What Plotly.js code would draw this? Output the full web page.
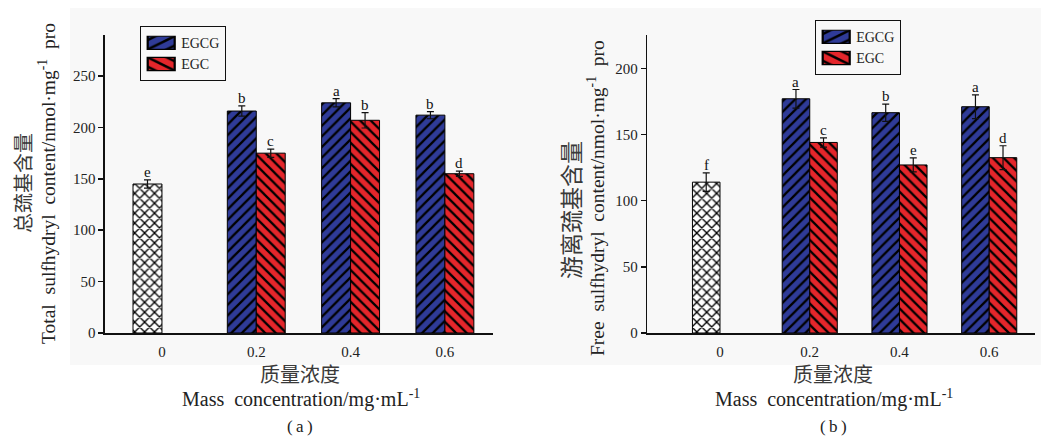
<!DOCTYPE html>
<html>
<head>
<meta charset="utf-8">
<script src="https://cdn.plot.ly/plotly-3.0.1.min.js"></script>
<style>
  html, body { margin: 0; padding: 0; background: #fff; }
  #chart { width: 1041px; height: 438px; }
</style>
</head>
<body>
<div id="chart"></div>
<script>
// Mass concentration categories (mg/mL)
const categories = ['0', '0.2', '0.4', '0.6'];
const doseCategories = ['0.2', '0.4', '0.6'];

// (a) Total sulfhydryl content, nmol/mg pro
const totalControl = [145];
const totalControlErr = [4];
const totalControlLetters = ['e'];
const totalEGCG = [216, 224, 212];
const totalEGCGErr = [5, 4, 3.5];
const totalEGCGLetters = ['b', 'a', 'b'];
const totalEGC = [175, 207, 155];
const totalEGCErr = [4, 7.5, 2.5];
const totalEGCLetters = ['c', 'b', 'd'];

// (b) Free sulfhydryl content, nmol/mg pro
const freeControl = [114];
const freeControlErr = [7];
const freeControlLetters = ['f'];
const freeEGCG = [177, 166.5, 171];
const freeEGCGErr = [7, 6.5, 9];
const freeEGCGLetters = ['a', 'b', 'a'];
const freeEGC = [144, 127, 132.5];
const freeEGCErr = [3.5, 5.3, 9];
const freeEGCLetters = ['c', 'e', 'd'];

const SERIF = "'Liberation Serif', 'Times New Roman', 'Noto Sans CJK SC', serif";
const CJK = "'Noto Sans CJK SC', sans-serif";
const BLUE = '#2f3b98';
const RED = '#e4262b';
const W = 0.307;

function errorBars(arr) {
  return { type: 'data', array: arr, visible: true, color: '#111', thickness: 1.2, width: 3.5 };
}

function panelTraces(xa, ya, legendId, control, controlErr, egcg, egcgErr, egc, egcErr) {
  return [
    {
      type: 'bar', name: 'Control', x: ['0'], y: control, xaxis: xa, yaxis: ya,
      width: W, offset: -W, showlegend: false,
      marker: { color: '#fff', line: { color: '#000', width: 1 },
        pattern: { shape: 'x', fgcolor: '#000', bgcolor: '#fff', size: 7, solidity: 0.35, fillmode: 'replace' } },
      error_y: errorBars(controlErr)
    },
    {
      type: 'bar', name: 'EGCG', x: doseCategories, y: egcg, xaxis: xa, yaxis: ya,
      width: W, offset: -W, legend: legendId,
      marker: { color: BLUE, line: { color: '#000', width: 1 },
        pattern: { shape: '/', fgcolor: '#000', bgcolor: BLUE, size: 7.5, solidity: 0.3, fillmode: 'replace' } },
      error_y: errorBars(egcgErr)
    },
    {
      type: 'bar', name: 'EGC', x: doseCategories, y: egc, xaxis: xa, yaxis: ya,
      width: W, offset: 0, legend: legendId,
      marker: { color: RED, line: { color: '#000', width: 1 },
        pattern: { shape: '\\', fgcolor: '#000', bgcolor: RED, size: 7.5, solidity: 0.3, fillmode: 'replace' } },
      error_y: errorBars(egcErr)
    }
  ];
}

function letterNotes(xref, yref, cats, vals, errs, letters, shift) {
  return cats.map((c, i) => ({
    xref: xref, yref: yref,
    x: categories.indexOf(c) + shift, y: vals[i] + errs[i],
    text: letters[i], showarrow: false, yanchor: 'bottom', yshift: -2,
    font: { family: SERIF, size: 15, color: '#111' }
  }));
}

const traces = [].concat(
  panelTraces('x', 'y', 'legend', totalControl, totalControlErr, totalEGCG, totalEGCGErr, totalEGC, totalEGCErr),
  panelTraces('x2', 'y2', 'legend2', freeControl, freeControlErr, freeEGCG, freeEGCGErr, freeEGC, freeEGCErr)
);

const PW = 1041, PH = 438;
const px = v => v / PW;
const py = v => 1 - v / PH;

function textNote(x, y, text, size, family, angle, color) {
  return {
    xref: 'paper', yref: 'paper', x: px(x), y: py(y), text: text,
    showarrow: false, xanchor: 'center', yanchor: 'middle', textangle: angle || 0,
    font: { family: family, size: size, color: color || '#222' }
  };
}

const SP = '\u00a0\u00a0';
const CJK_COLOR = '#3a3a3a';
const annotations = [].concat(
  letterNotes('x', 'y', ['0'], totalControl, totalControlErr, totalControlLetters, -W / 2),
  letterNotes('x', 'y', doseCategories, totalEGCG, totalEGCGErr, totalEGCGLetters, -W / 2),
  letterNotes('x', 'y', doseCategories, totalEGC, totalEGCErr, totalEGCLetters, W / 2),
  letterNotes('x2', 'y2', ['0'], freeControl, freeControlErr, freeControlLetters, -W / 2),
  letterNotes('x2', 'y2', doseCategories, freeEGCG, freeEGCGErr, freeEGCGLetters, -W / 2),
  letterNotes('x2', 'y2', doseCategories, freeEGC, freeEGCErr, freeEGCLetters, W / 2),
  [
    // panel (a) titles
    textNote(22, 183, '总巯基含量', 20, CJK, -90, CJK_COLOR),
    textNote(47, 184, 'Total' + SP + 'sulfhydryl' + SP + 'content/nmol·mg<sup>-1</sup>' + SP + 'pro', 19.5, SERIF, -90),
    textNote(300, 373, '质量浓度', 20, CJK, 0, CJK_COLOR),
    textNote(301, 398, 'Mass' + SP + 'concentration/mg·mL<sup>-1</sup>', 20, SERIF),
    textNote(300, 426, '(\u2009a\u2009)', 17, SERIF),
    // panel (b) titles
    textNote(570, 210, '游离巯基含量', 23, CJK, -90, CJK_COLOR),
    textNote(596, 198, 'Free' + SP + 'sulfhydryl' + SP + 'content/nmol·mg<sup>-1</sup>' + SP + 'pro', 19.5, SERIF, -90),
    textNote(833, 373, '质量浓度', 20, CJK, 0, CJK_COLOR),
    textNote(834, 398, 'Mass' + SP + 'concentration/mg·mL<sup>-1</sup>', 20, SERIF),
    textNote(833, 426, '(\u2009b\u2009)', 17, SERIF)
  ]
);

const tickFont = { family: SERIF, size: 15, color: '#222' };

function xAxis(domain, range) {
  return {
    domain: domain, range: range, type: 'category',
    categoryorder: 'array', categoryarray: categories,
    showline: true, linecolor: '#111', linewidth: 1.6,
    ticks: '', showgrid: false, zeroline: false,
    tickfont: tickFont, ticklabelstandoff: 4, fixedrange: true
  };
}
function yAxis(range, anchor) {
  return {
    domain: [0.23973, 0.92009], range: range, anchor: anchor,
    tick0: 0, dtick: 50,
    showline: true, linecolor: '#111', linewidth: 1.6,
    ticks: 'outside', ticklen: 5, tickwidth: 1.5, tickcolor: '#111',
    showgrid: false, zeroline: false, tickfont: tickFont, fixedrange: true
  };
}

function legendBox(x, y) {
  return {
    x: px(x), y: py(y), xanchor: 'left', yanchor: 'top',
    bgcolor: 'rgba(255,255,255,0)', bordercolor: '#111', borderwidth: 1.2,
    font: { family: SERIF, size: 14, color: '#222' },
    tracegroupgap: 0
  };
}

const layout = {
  width: PW, height: PH,
  margin: { l: 0, r: 0, t: 0, b: 0 },
  paper_bgcolor: '#ffffff', plot_bgcolor: 'rgba(0,0,0,0)',
  showlegend: true,
  barmode: 'overlay',
  xaxis: Object.assign(xAxis([px(105), px(493)], [-0.604, 3.51]), { anchor: 'y' }),
  yaxis: yAxis([0, 290], 'x'),
  xaxis2: Object.assign(xAxis([px(647.3), px(1035)], [-0.81, 3.51]), { anchor: 'y2' }),
  yaxis2: yAxis([0, 225.2], 'x2'),
  legend: legendBox(140, 26),
  legend2: legendBox(815, 20),
  shapes: [{
    type: 'rect', xref: 'paper', yref: 'paper', layer: 'below',
    x0: px(70), x1: 1, y0: py(365), y1: py(8),
    fillcolor: '#f8f8f8', line: { width: 0 }
  }],
  annotations: annotations
};

Plotly.newPlot('chart', traces, layout, { displayModeBar: false, staticPlot: true }).then(gd => {
  // stretch the legend swatches into wide, flat rectangles
  gd.querySelectorAll('.legendpoints path').forEach(p => {
    const t = p.getAttribute('transform') || '';
    p.setAttribute('transform', t + ' scale(2.25,1.1)');
  });
});
</script>
</body>
</html>
